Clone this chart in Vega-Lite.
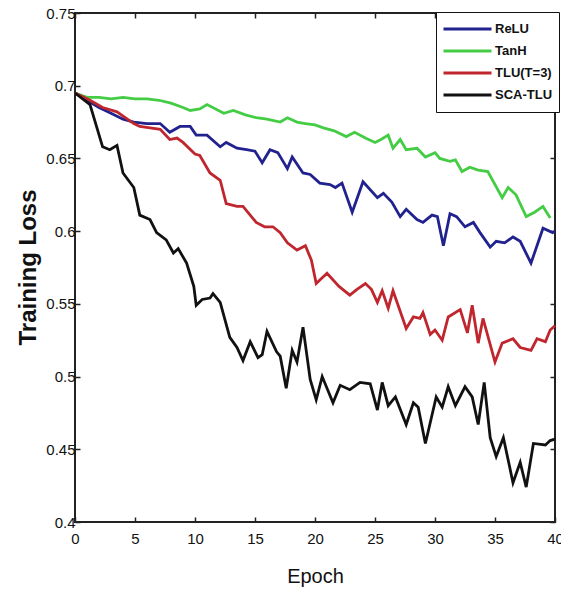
{
  "$schema": "https://vega.github.io/schema/vega-lite/v6.json",
  "width": 480,
  "height": 509,
  "autosize": {"type": "none"},
  "padding": {"left": 75, "top": 13, "right": 6, "bottom": 67},
  "background": "white",
  "config": {
    "view": {"stroke": "#222", "strokeWidth": 2},
    "font": "Liberation Sans",
    "axis": {"grid": false, "domain": false, "tickColor": "#222", "tickWidth": 1.5, "labelColor": "#111", "titleColor": "#111", "labelFont": "Liberation Sans", "titleFont": "Liberation Sans"},
    "legend": {"labelFont": "Liberation Sans"}
  },
  "data": {"values": [
    {"series":"ReLU","epoch":0,"loss":0.695},{"series":"ReLU","epoch":1,"loss":0.690},{"series":"ReLU","epoch":2,"loss":0.685},{"series":"ReLU","epoch":3,"loss":0.681},{"series":"ReLU","epoch":4,"loss":0.677},{"series":"ReLU","epoch":4.9,"loss":0.675},{"series":"ReLU","epoch":6,"loss":0.674},{"series":"ReLU","epoch":7.1,"loss":0.674},{"series":"ReLU","epoch":7.9,"loss":0.668},{"series":"ReLU","epoch":8.75,"loss":0.672},{"series":"ReLU","epoch":9.6,"loss":0.672},{"series":"ReLU","epoch":10.1,"loss":0.666},{"series":"ReLU","epoch":11,"loss":0.666},{"series":"ReLU","epoch":12.1,"loss":0.658},{"series":"ReLU","epoch":12.6,"loss":0.661},{"series":"ReLU","epoch":13.5,"loss":0.657},{"series":"ReLU","epoch":14.3,"loss":0.656},{"series":"ReLU","epoch":15,"loss":0.655},{"series":"ReLU","epoch":15.6,"loss":0.647},{"series":"ReLU","epoch":16.25,"loss":0.656},{"series":"ReLU","epoch":16.9,"loss":0.654},{"series":"ReLU","epoch":17.7,"loss":0.643},{"series":"ReLU","epoch":18.1,"loss":0.651},{"series":"ReLU","epoch":19,"loss":0.640},{"series":"ReLU","epoch":19.6,"loss":0.639},{"series":"ReLU","epoch":20.4,"loss":0.633},{"series":"ReLU","epoch":21.25,"loss":0.632},{"series":"ReLU","epoch":21.7,"loss":0.630},{"series":"ReLU","epoch":22.25,"loss":0.633},{"series":"ReLU","epoch":23.1,"loss":0.613},{"series":"ReLU","epoch":24,"loss":0.634},{"series":"ReLU","epoch":25.2,"loss":0.623},{"series":"ReLU","epoch":25.7,"loss":0.626},{"series":"ReLU","epoch":26.4,"loss":0.620},{"series":"ReLU","epoch":27.1,"loss":0.610},{"series":"ReLU","epoch":27.6,"loss":0.615},{"series":"ReLU","epoch":28.5,"loss":0.608},{"series":"ReLU","epoch":29,"loss":0.606},{"series":"ReLU","epoch":29.75,"loss":0.611},{"series":"ReLU","epoch":30.2,"loss":0.610},{"series":"ReLU","epoch":30.7,"loss":0.590},{"series":"ReLU","epoch":31.25,"loss":0.612},{"series":"ReLU","epoch":31.8,"loss":0.610},{"series":"ReLU","epoch":32.5,"loss":0.603},{"series":"ReLU","epoch":33.2,"loss":0.606},{"series":"ReLU","epoch":33.75,"loss":0.599},{"series":"ReLU","epoch":34.6,"loss":0.589},{"series":"ReLU","epoch":35.1,"loss":0.593},{"series":"ReLU","epoch":35.8,"loss":0.592},{"series":"ReLU","epoch":36.5,"loss":0.596},{"series":"ReLU","epoch":37.1,"loss":0.593},{"series":"ReLU","epoch":38,"loss":0.578},{"series":"ReLU","epoch":39,"loss":0.602},{"series":"ReLU","epoch":39.8,"loss":0.599},{"series":"ReLU","epoch":40,"loss":0.600},
    {"series":"TanH","epoch":0,"loss":0.695},{"series":"TanH","epoch":1,"loss":0.692},{"series":"TanH","epoch":2,"loss":0.692},{"series":"TanH","epoch":3,"loss":0.691},{"series":"TanH","epoch":4,"loss":0.692},{"series":"TanH","epoch":5,"loss":0.691},{"series":"TanH","epoch":6,"loss":0.691},{"series":"TanH","epoch":7,"loss":0.690},{"series":"TanH","epoch":8,"loss":0.688},{"series":"TanH","epoch":9,"loss":0.685},{"series":"TanH","epoch":9.6,"loss":0.683},{"series":"TanH","epoch":10.4,"loss":0.684},{"series":"TanH","epoch":11,"loss":0.687},{"series":"TanH","epoch":12.4,"loss":0.681},{"series":"TanH","epoch":13.2,"loss":0.683},{"series":"TanH","epoch":14.2,"loss":0.680},{"series":"TanH","epoch":15.1,"loss":0.678},{"series":"TanH","epoch":16,"loss":0.677},{"series":"TanH","epoch":17.1,"loss":0.675},{"series":"TanH","epoch":17.7,"loss":0.678},{"series":"TanH","epoch":18.5,"loss":0.675},{"series":"TanH","epoch":19.2,"loss":0.674},{"series":"TanH","epoch":20,"loss":0.673},{"series":"TanH","epoch":20.7,"loss":0.671},{"series":"TanH","epoch":21.6,"loss":0.669},{"series":"TanH","epoch":22.6,"loss":0.665},{"series":"TanH","epoch":23.3,"loss":0.668},{"series":"TanH","epoch":24.2,"loss":0.664},{"series":"TanH","epoch":25,"loss":0.661},{"series":"TanH","epoch":25.5,"loss":0.663},{"series":"TanH","epoch":26.1,"loss":0.666},{"series":"TanH","epoch":26.5,"loss":0.657},{"series":"TanH","epoch":27.1,"loss":0.663},{"series":"TanH","epoch":27.6,"loss":0.656},{"series":"TanH","epoch":28.5,"loss":0.657},{"series":"TanH","epoch":29.2,"loss":0.651},{"series":"TanH","epoch":30,"loss":0.654},{"series":"TanH","epoch":30.4,"loss":0.650},{"series":"TanH","epoch":31.25,"loss":0.648},{"series":"TanH","epoch":31.7,"loss":0.649},{"series":"TanH","epoch":32.25,"loss":0.641},{"series":"TanH","epoch":32.9,"loss":0.644},{"series":"TanH","epoch":33.6,"loss":0.642},{"series":"TanH","epoch":34.4,"loss":0.641},{"series":"TanH","epoch":35.6,"loss":0.623},{"series":"TanH","epoch":36.1,"loss":0.630},{"series":"TanH","epoch":36.75,"loss":0.625},{"series":"TanH","epoch":37.6,"loss":0.610},{"series":"TanH","epoch":38.3,"loss":0.613},{"series":"TanH","epoch":39,"loss":0.617},{"series":"TanH","epoch":39.6,"loss":0.609},
    {"series":"TLU(T=3)","epoch":0,"loss":0.695},{"series":"TLU(T=3)","epoch":1.25,"loss":0.690},{"series":"TLU(T=3)","epoch":2.3,"loss":0.685},{"series":"TLU(T=3)","epoch":3.5,"loss":0.682},{"series":"TLU(T=3)","epoch":4.9,"loss":0.674},{"series":"TLU(T=3)","epoch":5.4,"loss":0.672},{"series":"TLU(T=3)","epoch":6.25,"loss":0.671},{"series":"TLU(T=3)","epoch":7.1,"loss":0.670},{"series":"TLU(T=3)","epoch":7.9,"loss":0.663},{"series":"TLU(T=3)","epoch":8.5,"loss":0.664},{"series":"TLU(T=3)","epoch":9,"loss":0.661},{"series":"TLU(T=3)","epoch":10,"loss":0.653},{"series":"TLU(T=3)","epoch":10.4,"loss":0.652},{"series":"TLU(T=3)","epoch":11.25,"loss":0.640},{"series":"TLU(T=3)","epoch":12.1,"loss":0.635},{"series":"TLU(T=3)","epoch":12.6,"loss":0.619},{"series":"TLU(T=3)","epoch":13.5,"loss":0.617},{"series":"TLU(T=3)","epoch":14,"loss":0.617},{"series":"TLU(T=3)","epoch":15.1,"loss":0.606},{"series":"TLU(T=3)","epoch":15.8,"loss":0.603},{"series":"TLU(T=3)","epoch":16.5,"loss":0.603},{"series":"TLU(T=3)","epoch":17.1,"loss":0.599},{"series":"TLU(T=3)","epoch":17.7,"loss":0.592},{"series":"TLU(T=3)","epoch":18.5,"loss":0.587},{"series":"TLU(T=3)","epoch":19.2,"loss":0.590},{"series":"TLU(T=3)","epoch":19.7,"loss":0.580},{"series":"TLU(T=3)","epoch":20.1,"loss":0.564},{"series":"TLU(T=3)","epoch":21,"loss":0.571},{"series":"TLU(T=3)","epoch":22,"loss":0.562},{"series":"TLU(T=3)","epoch":22.9,"loss":0.556},{"series":"TLU(T=3)","epoch":23.5,"loss":0.560},{"series":"TLU(T=3)","epoch":24.2,"loss":0.564},{"series":"TLU(T=3)","epoch":24.7,"loss":0.560},{"series":"TLU(T=3)","epoch":25.2,"loss":0.551},{"series":"TLU(T=3)","epoch":25.6,"loss":0.559},{"series":"TLU(T=3)","epoch":26.1,"loss":0.547},{"series":"TLU(T=3)","epoch":26.5,"loss":0.559},{"series":"TLU(T=3)","epoch":27.6,"loss":0.533},{"series":"TLU(T=3)","epoch":28.2,"loss":0.541},{"series":"TLU(T=3)","epoch":28.75,"loss":0.540},{"series":"TLU(T=3)","epoch":29,"loss":0.544},{"series":"TLU(T=3)","epoch":29.6,"loss":0.529},{"series":"TLU(T=3)","epoch":30,"loss":0.532},{"series":"TLU(T=3)","epoch":30.6,"loss":0.525},{"series":"TLU(T=3)","epoch":31.1,"loss":0.541},{"series":"TLU(T=3)","epoch":32.1,"loss":0.546},{"series":"TLU(T=3)","epoch":32.7,"loss":0.530},{"series":"TLU(T=3)","epoch":33.1,"loss":0.549},{"series":"TLU(T=3)","epoch":33.6,"loss":0.523},{"series":"TLU(T=3)","epoch":34,"loss":0.540},{"series":"TLU(T=3)","epoch":35,"loss":0.510},{"series":"TLU(T=3)","epoch":35.6,"loss":0.523},{"series":"TLU(T=3)","epoch":36.5,"loss":0.526},{"series":"TLU(T=3)","epoch":37.1,"loss":0.520},{"series":"TLU(T=3)","epoch":38,"loss":0.518},{"series":"TLU(T=3)","epoch":38.5,"loss":0.526},{"series":"TLU(T=3)","epoch":39.2,"loss":0.524},{"series":"TLU(T=3)","epoch":39.6,"loss":0.532},{"series":"TLU(T=3)","epoch":40,"loss":0.535},
    {"series":"SCA-TLU","epoch":0,"loss":0.695},{"series":"SCA-TLU","epoch":1.25,"loss":0.687},{"series":"SCA-TLU","epoch":2.3,"loss":0.658},{"series":"SCA-TLU","epoch":2.9,"loss":0.656},{"series":"SCA-TLU","epoch":3.5,"loss":0.659},{"series":"SCA-TLU","epoch":4,"loss":0.640},{"series":"SCA-TLU","epoch":4.9,"loss":0.630},{"series":"SCA-TLU","epoch":5.4,"loss":0.611},{"series":"SCA-TLU","epoch":6.25,"loss":0.608},{"series":"SCA-TLU","epoch":6.8,"loss":0.599},{"series":"SCA-TLU","epoch":7.6,"loss":0.594},{"series":"SCA-TLU","epoch":8.2,"loss":0.585},{"series":"SCA-TLU","epoch":8.6,"loss":0.588},{"series":"SCA-TLU","epoch":9.3,"loss":0.578},{"series":"SCA-TLU","epoch":9.9,"loss":0.562},{"series":"SCA-TLU","epoch":10.1,"loss":0.549},{"series":"SCA-TLU","epoch":10.6,"loss":0.553},{"series":"SCA-TLU","epoch":11.25,"loss":0.554},{"series":"SCA-TLU","epoch":11.5,"loss":0.557},{"series":"SCA-TLU","epoch":12.1,"loss":0.551},{"series":"SCA-TLU","epoch":12.9,"loss":0.527},{"series":"SCA-TLU","epoch":13.5,"loss":0.520},{"series":"SCA-TLU","epoch":14,"loss":0.511},{"series":"SCA-TLU","epoch":14.6,"loss":0.524},{"series":"SCA-TLU","epoch":15.25,"loss":0.513},{"series":"SCA-TLU","epoch":15.6,"loss":0.515},{"series":"SCA-TLU","epoch":16,"loss":0.531},{"series":"SCA-TLU","epoch":16.8,"loss":0.517},{"series":"SCA-TLU","epoch":17.1,"loss":0.514},{"series":"SCA-TLU","epoch":17.6,"loss":0.492},{"series":"SCA-TLU","epoch":18.1,"loss":0.518},{"series":"SCA-TLU","epoch":18.5,"loss":0.510},{"series":"SCA-TLU","epoch":19,"loss":0.534},{"series":"SCA-TLU","epoch":19.6,"loss":0.498},{"series":"SCA-TLU","epoch":20.1,"loss":0.484},{"series":"SCA-TLU","epoch":20.6,"loss":0.500},{"series":"SCA-TLU","epoch":21.5,"loss":0.482},{"series":"SCA-TLU","epoch":22.1,"loss":0.494},{"series":"SCA-TLU","epoch":22.9,"loss":0.491},{"series":"SCA-TLU","epoch":23.75,"loss":0.496},{"series":"SCA-TLU","epoch":24.6,"loss":0.495},{"series":"SCA-TLU","epoch":25.2,"loss":0.477},{"series":"SCA-TLU","epoch":25.6,"loss":0.496},{"series":"SCA-TLU","epoch":26.1,"loss":0.480},{"series":"SCA-TLU","epoch":26.7,"loss":0.486},{"series":"SCA-TLU","epoch":27.6,"loss":0.467},{"series":"SCA-TLU","epoch":28.2,"loss":0.482},{"series":"SCA-TLU","epoch":28.6,"loss":0.479},{"series":"SCA-TLU","epoch":29.2,"loss":0.454},{"series":"SCA-TLU","epoch":30.1,"loss":0.486},{"series":"SCA-TLU","epoch":30.6,"loss":0.479},{"series":"SCA-TLU","epoch":31.1,"loss":0.493},{"series":"SCA-TLU","epoch":31.7,"loss":0.480},{"series":"SCA-TLU","epoch":32.5,"loss":0.493},{"series":"SCA-TLU","epoch":33.1,"loss":0.486},{"series":"SCA-TLU","epoch":33.6,"loss":0.467},{"series":"SCA-TLU","epoch":34.1,"loss":0.496},{"series":"SCA-TLU","epoch":34.6,"loss":0.458},{"series":"SCA-TLU","epoch":35.1,"loss":0.445},{"series":"SCA-TLU","epoch":35.7,"loss":0.458},{"series":"SCA-TLU","epoch":36.5,"loss":0.427},{"series":"SCA-TLU","epoch":37.1,"loss":0.441},{"series":"SCA-TLU","epoch":37.6,"loss":0.424},{"series":"SCA-TLU","epoch":38.2,"loss":0.454},{"series":"SCA-TLU","epoch":39.2,"loss":0.453},{"series":"SCA-TLU","epoch":39.6,"loss":0.456},{"series":"SCA-TLU","epoch":40,"loss":0.457}
  ]},
  "layer": [
    {
      "mark": {"type": "line", "strokeWidth": 2.8, "interpolate": "linear"},
      "encoding": {
        "x": {"field": "epoch", "type": "quantitative", "scale": {"domain": [0, 40], "nice": false},
              "axis": {"orient": "bottom", "values": [0,5,10,15,20,25,30,35,40], "tickSize": -5, "labelPadding": 14, "labelFontSize": 15, "labelFlush": false,
                       "title": "Epoch", "titleFontSize": 20, "titleFontWeight": "normal", "titleBaseline": "alphabetic", "titleY": 60, "titleX": 240}},
        "y": {"field": "loss", "type": "quantitative", "scale": {"domain": [0.4, 0.75], "nice": false, "zero": false},
              "axis": {"orient": "left", "values": [0.4,0.45,0.5,0.55,0.6,0.65,0.7,0.75], "format": "~g", "tickSize": -5, "labelPadding": 5, "labelFontSize": 15, "labelFlush": false,
                       "title": "Training Loss", "titleFontSize": 24, "titleFontWeight": "bold", "titleBaseline": "middle", "titleX": -47, "titleY": 254, "titleAngle": -90}},
        "color": {"field": "series", "type": "nominal",
                  "scale": {"domain": ["ReLU", "TanH", "TLU(T=3)", "SCA-TLU"], "range": ["#22228f", "#44cc44", "#c0262e", "#111111"]},
                  "legend": {"title": null, "orient": "none", "legendX": 361, "legendY": -1, "symbolType": "stroke", "symbolSize": 2304, "symbolStrokeWidth": 2.8,
                             "labelFontSize": 13, "labelFontWeight": "bold", "labelColor": "#111", "labelOffset": 2, "padding": 6, "rowPadding": 0, "clipHeight": 22,
                             "fillColor": "white", "strokeColor": "#111"}},
        "order": {"field": "epoch", "type": "quantitative"}
      }
    },
    {
      "mark": {"type": "line", "opacity": 0},
      "encoding": {
        "x": {"field": "epoch", "type": "quantitative", "axis": {"orient": "top", "values": [0,5,10,15,20,25,30,35,40], "tickSize": -5, "labels": false, "title": null}},
        "y": {"field": "loss", "type": "quantitative", "axis": {"orient": "right", "values": [0.4,0.45,0.5,0.55,0.6,0.65,0.7,0.75], "tickSize": -5, "labels": false, "title": null}},
        "detail": {"field": "series"}
      }
    }
  ],
  "resolve": {"axis": {"x": "independent", "y": "independent"}}
}
